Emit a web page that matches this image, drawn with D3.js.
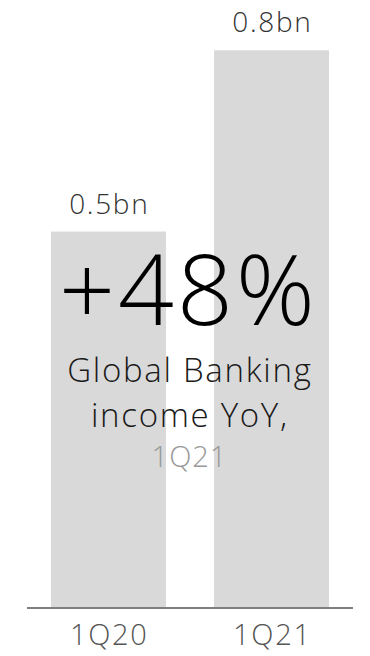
<!DOCTYPE html>
<html>
<head>
<meta charset="utf-8">
<script src="https://cdn.jsdelivr.net/npm/d3@7"></script>
<style>
  html, body { margin: 0; padding: 0; background: #fff; }
  svg { display: block; font-family: "Open Sans", "Noto Sans", sans-serif; }
</style>
</head>
<body>
<svg id="chart" width="370" height="656"></svg>
<script>
// Global Banking income, USD bn
const categories = ["1Q20", "1Q21"];
const values = [0.54, 0.80];
const headline = "+48%";
const captionLines = ["Global Banking", "income YoY,"];
const captionPeriod = "1Q21";

const width = 370, height = 656;
const margin = { left: 27, right: 17, bottom: 48, top: 50 };
const svg = d3.select("#chart");

const x = d3.scaleBand()
  .domain(categories)
  .range([margin.left, width - margin.right])
  .paddingInner(0.295)
  .paddingOuter(0.147);

const baseY = height - margin.bottom;
const y = d3.scaleLinear()
  .domain([0, d3.max(values)])
  .range([baseY, margin.top + 0.3]);

const fmt = d3.format(".1f");

// bars
svg.append("g").selectAll("rect")
  .data(values)
  .join("rect")
  .attr("x", (d, i) => x(categories[i]))
  .attr("width", x.bandwidth())
  .attr("y", d => y(d))
  .attr("height", d => baseY - y(d))
  .attr("fill", "#d9d9d9");

// value labels
const ls = 1.7;
svg.append("g").selectAll("text")
  .data(values)
  .join("text")
  .attr("x", (d, i) => x(categories[i]) + x.bandwidth() / 2 + ls / 2)
  .attr("y", d => y(d) - 18)
  .attr("text-anchor", "middle")
  .attr("font-size", 28)
  .attr("font-weight", 300)
  .attr("letter-spacing", ls)
  .attr("fill", "#333")
  .text(d => fmt(d) + "bn");

// category axis
const axis = svg.append("g")
  .attr("transform", `translate(0,${baseY})`)
  .call(d3.axisBottom(x).tickSize(0).tickPadding(16));
axis.select(".domain")
  .attr("d", `M${margin.left},0H${width - margin.right}`)
  .attr("stroke", "#7f7f7f")
  .attr("stroke-width", 2.2);
axis.selectAll(".tick text")
  .attr("font-family", "'Open Sans', 'Noto Sans', sans-serif")
  .attr("font-size", 29)
  .attr("font-weight", 300)
  .attr("letter-spacing", ls)
  .attr("x", ls / 2)
  .attr("fill", "#555")
  .attr("dy", "0.71em");

// headline figure
const cx = 187;
svg.append("text")
  .attr("x", cx + 1.5)
  .attr("y", 325)
  .attr("text-anchor", "middle")
  .attr("font-size", 98)
  .attr("font-weight", 300)
  .attr("letter-spacing", 3)
  .attr("fill", "#000")
  .text(headline);

svg.append("g").selectAll("text")
  .data(captionLines)
  .join("text")
  .attr("x", cx + 2 + ls / 2)
  .attr("y", (d, i) => 382 + i * 45)
  .attr("text-anchor", "middle")
  .attr("font-size", 33)
  .attr("font-weight", 300)
  .attr("letter-spacing", ls)
  .attr("fill", "#1a1a1a")
  .text(d => d);

svg.append("text")
  .attr("x", cx + 2 + 0.5)
  .attr("y", 467)
  .attr("text-anchor", "middle")
  .attr("font-size", 29)
  .attr("font-weight", 300)
  .attr("letter-spacing", 1)
  .attr("fill", "#999")
  .text(captionPeriod);
</script>
</body>
</html>
